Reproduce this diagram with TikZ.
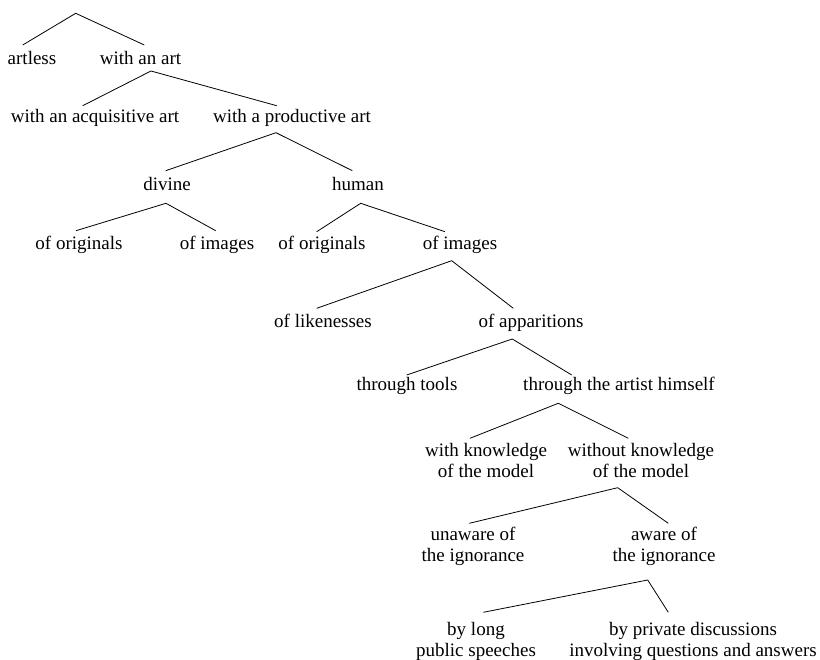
\documentclass[tikz,border=0pt]{standalone}
\usepackage{fontspec}
\setmainfont{Liberation Serif}
\usepackage{tikz}

\begin{document}
\begin{tikzpicture}[x=1pt,y=-1pt,
  lbl/.style={anchor=base,inner sep=0pt,outer sep=0pt,align=center,
    font=\fontsize{19}{21.3}\selectfont},
  every path/.style={line width=0.8pt}]
\useasboundingbox (0,0) rectangle (820,660);
% labels (two-line labels sit on their last baseline)
\coordinate (root) at (75.7,13.3);
\node[lbl] (artless) at (32,65) {artless};
\node[lbl] (wart) at (140.5,65) {with an art};
\node[lbl] (acq) at (95,123) {with an acquisitive art};
\node[lbl] (prod) at (292,123) {with a productive art};
\node[lbl] (divine) at (167,191) {divine};
\node[lbl] (human) at (358,191) {human};
\node[lbl] (dorig) at (79,250) {of originals};
\node[lbl] (dimg) at (217,250) {of images};
\node[lbl] (horig) at (322,250) {of originals};
\node[lbl] (himg) at (460,250) {of images};
\node[lbl] (liken) at (323,328) {of likenesses};
\node[lbl] (appar) at (531,328) {of apparitions};
\node[lbl] (tools) at (407,391) {through tools};
\node[lbl] (himself) at (619,391) {through the artist himself};
\node[lbl] (withk) at (486,477.3) {with knowledge\\of the model};
\node[lbl] (withoutk) at (641,477.3) {without knowledge\\of the model};
\node[lbl] (unaware) at (473,561.3) {unaware of\\the ignorance};
\node[lbl] (aware) at (664,561.3) {aware of\\the ignorance};
\node[lbl] (long) at (476,656.3) {by long\\public speeches};
\node[lbl] (private) at (693,656.3) {by private discussions\\involving questions and answers};
% branches
\draw ([shift={(-9.3,-20)}]artless.base) -- (root) -- ([shift={(3.8,-20)}]wart.base);
\draw ([shift={(-12.3,-17.3)}]acq.base) -- ([shift={(10.5,6)}]wart.base)
  -- ([shift={(-15.3,-17.3)}]prod.base);
\draw ([shift={(-1.3,-20.3)}]divine.base) -- ([shift={(-16,9.7)}]prod.base)
  -- ([shift={(-5.7,-20.3)}]human.base);
\draw ([shift={(-3,-19.3)}]dorig.base) -- ([shift={(-1,12.3)}]divine.base)
  -- ([shift={(-1.3,-19.3)}]dimg.base);
\draw ([shift={(-5.3,-18.3)}]horig.base) -- ([shift={(2.7,12.3)}]human.base)
  -- ([shift={(-15,-18.3)}]himg.base);
\draw ([shift={(-6.3,-19.7)}]liken.base) -- ([shift={(-8.3,10.7)}]himg.base)
  -- ([shift={(-17.7,-19.7)}]appar.base);
\draw ([shift={(-0.3,-16)}]tools.base) -- ([shift={(-18.7,11)}]appar.base)
  -- ([shift={(-47.3,-16)}]himself.base);
\draw ([shift={(-16,-39)}]withk.base) -- ([shift={(-60.7,12.3)}]himself.base)
  -- ([shift={(-12.7,-39)}]withoutk.base);
\draw ([shift={(-3.7,-38)}]unaware.base) -- ([shift={(-23.3,10.4)}]withoutk.base)
  -- ([shift={(4.3,-38)}]aware.base);
\draw ([shift={(7.3,-44)}]long.base) -- ([shift={(-16.3,18.7)}]aware.base)
  -- ([shift={(-24.7,-44)}]private.base);
\end{tikzpicture}
\end{document}
